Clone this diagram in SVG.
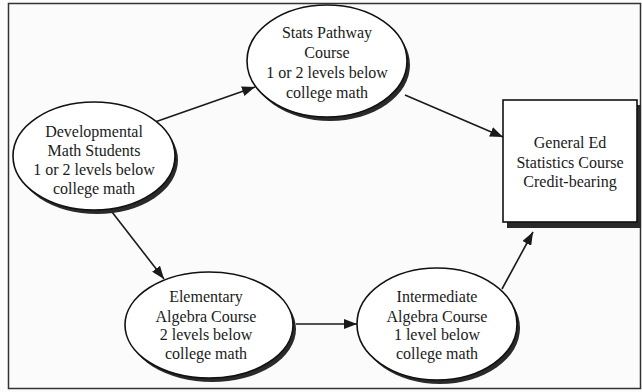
<svg xmlns="http://www.w3.org/2000/svg" width="642" height="392" viewBox="0 0 642 392">
<defs>
<style>
.shadow{fill:#2a2a2a}
.node{fill:#ffffff;stroke:#111;stroke-width:1.6}
.lbl{font-family:"Liberation Serif","Times New Roman",serif;font-size:16px;fill:#1a1a1a;text-anchor:middle}
.edge{stroke:#1a1a1a;stroke-width:1.6;fill:none;marker-end:url(#arr)}
</style>
<marker id="arr" viewBox="0 0 13 10" refX="13" refY="5" markerWidth="13" markerHeight="10" markerUnits="userSpaceOnUse" orient="auto">
<path d="M0,0 L13,5 L0,10 Z" fill="#1a1a1a"/>
</marker>
</defs>
<rect x="0" y="0" width="642" height="392" fill="#fbfbfb"/>
<rect x="8.5" y="3.5" width="632" height="385" fill="none" stroke="#333" stroke-width="1.5"/>
<g id="connectors">
<line class="edge" x1="155" y1="122" x2="255" y2="87"/>
<line class="edge" x1="405" y1="95" x2="503" y2="137"/>
<line class="edge" x1="112" y1="212" x2="164" y2="279"/>
<line class="edge" x1="296" y1="324" x2="357" y2="324"/>
<line class="edge" x1="502" y1="289" x2="533" y2="232"/>
</g>
<g id="dev">
<ellipse class="shadow" cx="97" cy="160" rx="81" ry="54"/>
<ellipse class="node" cx="94" cy="156" rx="81" ry="54"/>
<text class="lbl" x="94" y="137">Developmental</text>
<text class="lbl" x="94" y="156">Math Students</text>
<text class="lbl" x="94" y="175">1 or 2 levels below</text>
<text class="lbl" x="94" y="194">college math</text>
</g>
<g id="stats">
<ellipse class="shadow" cx="330" cy="65" rx="80" ry="56"/>
<ellipse class="node" cx="327" cy="61" rx="80" ry="56"/>
<text class="lbl" x="327" y="38">Stats Pathway</text>
<text class="lbl" x="327" y="58">Course</text>
<text class="lbl" x="327" y="78">1 or 2 levels below</text>
<text class="lbl" x="327" y="98">college math</text>
</g>
<g id="gened">
<rect class="shadow" x="507" y="105" width="134" height="123"/>
<rect class="node" x="503" y="100" width="134" height="122"/>
<text class="lbl" x="570" y="148">General Ed</text>
<text class="lbl" x="570" y="168">Statistics Course</text>
<text class="lbl" x="570" y="187">Credit-bearing</text>
</g>
<g id="elem">
<ellipse class="shadow" cx="212" cy="329" rx="84" ry="53"/>
<ellipse class="node" cx="209" cy="325" rx="84" ry="53"/>
<text class="lbl" x="206" y="302">Elementary</text>
<text class="lbl" x="206" y="322">Algebra Course</text>
<text class="lbl" x="206" y="340">2 levels below</text>
<text class="lbl" x="206" y="359">college math</text>
</g>
<g id="inter">
<ellipse class="shadow" cx="440" cy="328" rx="80" ry="56"/>
<ellipse class="node" cx="437" cy="324" rx="80" ry="56"/>
<text class="lbl" x="437" y="302">Intermediate</text>
<text class="lbl" x="437" y="322">Algebra Course</text>
<text class="lbl" x="437" y="340">1 level below</text>
<text class="lbl" x="437" y="359">college math</text>
</g>
</svg>
